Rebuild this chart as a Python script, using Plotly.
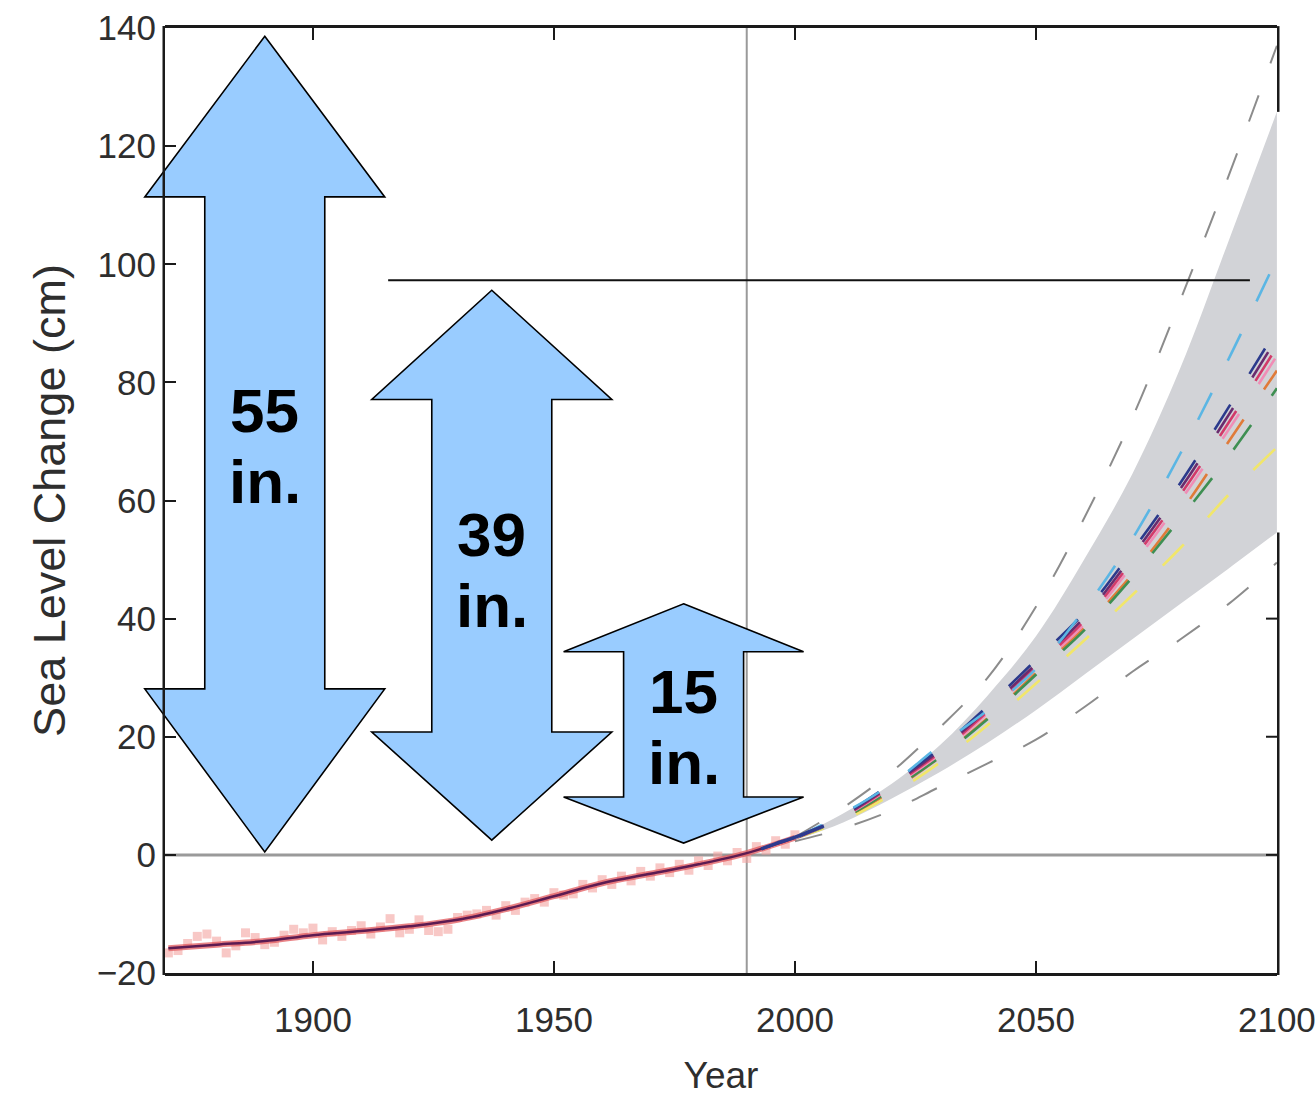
import plotly.graph_objects as go

# ---------------- data ----------------
# tide-gauge reconstruction (smoothed), cm relative to 1990
obs_years = [1870, 1880, 1890, 1900, 1910, 1920, 1930, 1940, 1950, 1960, 1970, 1980, 1990, 2000]
obs_level = [-15.8, -15.2, -14.6, -13.6, -12.9, -12.1, -11.0, -9.2, -7.0, -4.8, -3.2, -1.6, 0.3, 2.9]

# annual-mean points around the smoothed record
pt_years = list(range(1870, 2001, 2))
pt_level = [-16.6, -16.2, -15.0, -13.8, -13.4, -14.6, -16.6, -15.4, -13.2, -14.0,
            -15.2, -14.8, -13.6, -12.6, -13.2, -12.4, -14.4, -13.0, -13.8, -12.8,
            -12.0, -13.4, -12.2, -10.8, -13.2, -12.6, -11.0, -12.8, -13.0, -12.6,
            -10.6, -10.2, -10.0, -9.4, -10.2, -8.6, -9.4, -8.0, -7.4, -8.0,
            -6.4, -6.8, -6.6, -5.0, -5.6, -4.2, -5.0, -3.6, -4.4, -2.8,
            -3.6, -2.2, -3.0, -1.6, -2.6, -1.0, -1.8, -0.2, -1.0, 0.4,
            -0.6, 1.4, 0.8, 2.4, 1.8, 3.4]

# satellite altimetry
sat_years = [1993, 1996, 1999, 2002, 2006]
sat_level = [1.0, 1.9, 2.7, 3.6, 4.9]

# projections
proj_years = [2000, 2010, 2020, 2030, 2040, 2050, 2060, 2070, 2080, 2090, 2100]
band_upper = [2.8, 7.0, 12.0, 18.5, 27.0, 37.0, 50.0, 64.5, 82.5, 104.0, 125.8]
band_lower = [2.5, 5.5, 9.5, 14.0, 19.0, 24.5, 30.5, 36.5, 42.5, 48.5, 54.6]
outer_upper = [3.0, 8.0, 14.0, 21.5, 30.0, 42.0, 57.0, 74.0, 94.0, 115.0, 137.0]
outer_lower = [2.3, 4.5, 7.5, 11.5, 15.5, 19.5, 25.0, 31.0, 36.5, 42.5, 49.5]

scenario_names = ["orange", "yellow", "green", "pink", "crimson", "purple", "navy", "cyan"]
scenario_colors = ["#e07b39", "#f1e66a", "#3e8f52", "#f08db6", "#d23a6a", "#6a2c6e", "#2b3a8c", "#5bb6e4"]
scenario_values = [
    [2.8, 6.0, 10.8, 16.5, 23.2, 30.8, 38.5, 47.5, 58.0, 70.0, 82.0],
    [2.8, 5.8, 10.2, 15.6, 22.0, 29.0, 36.3, 44.0, 52.0, 61.0, 69.0],
    [2.8, 6.2, 11.0, 16.5, 23.0, 30.5, 38.0, 47.0, 57.0, 67.5, 79.0],
    [2.8, 6.4, 11.4, 17.0, 24.0, 31.5, 39.0, 49.0, 60.0, 72.0, 84.5],
    [2.8, 6.5, 11.6, 17.3, 24.3, 31.9, 39.6, 49.8, 61.0, 73.2, 86.0],
    [2.8, 6.6, 11.8, 17.6, 24.7, 32.3, 40.2, 50.6, 62.0, 74.5, 87.5],
    [2.8, 6.8, 12.1, 18.0, 25.2, 33.0, 41.0, 51.5, 63.0, 75.8, 89.0],
    [2.8, 7.0, 12.0, 18.5, 24.5, 31.5, 41.5, 53.5, 68.0, 84.0, 101.0],
]

# double-headed arrows: (centre year, tip top, head base top, head base bottom, tip bottom, label)
arrow_specs = [
    (1890.0, 138.6, 111.4, 28.1, 0.5, "55"),
    (1937.1, 95.6, 77.1, 20.8, 2.5, "39"),
    (1976.9, 42.5, 34.4, 9.8, 2.0, "15"),
]
label_rows = [(75.3, 63.3), (54.3, 42.3), (27.7, 15.7)]

ref_year = 1990
target_level = 97.3
target_span = [1915.6, 2094.4]

x_range = [1869.3, 2100.02]
y_range = [-20, 140]
x_ticks = [1900, 1950, 2000, 2050, 2100]
y_ticks = [-20, 0, 20, 40, 60, 80, 100, 120, 140]

# ---------------- figure ----------------
W, H = 1315, 1096
ML, MR, MT, MB = 165, 38, 28, 123
plot_w = W - ML - MR
plot_h = H - MT - MB


def px(year):
    return (year - x_range[0]) / (x_range[1] - x_range[0])


def py(level):
    return (level - y_range[0]) / (y_range[1] - y_range[0])


fig = go.Figure()

# projection envelope
fig.add_trace(go.Scatter(x=proj_years, y=band_upper, mode="lines", line=dict(width=0, shape="spline", color="#d2d3d7"),
                         hoverinfo="skip", showlegend=False))
fig.add_trace(go.Scatter(x=proj_years, y=band_lower, mode="lines", line=dict(width=0, shape="spline", color="#d2d3d7"),
                         fill="tonexty", fillcolor="#d2d3d7", hoverinfo="skip", showlegend=False))

# outer dashed bounds
for ys in (outer_upper, outer_lower):
    fig.add_trace(go.Scatter(x=proj_years, y=ys, mode="lines",
                             line=dict(color="#8c8c8c", width=2, dash="28px,34px", shape="spline"),
                             hoverinfo="skip", showlegend=False))

# scenario projections
for name, col, vals in zip(scenario_names, scenario_colors, scenario_values):
    fig.add_trace(go.Scatter(x=proj_years, y=vals, mode="lines", name=name,
                             line=dict(color=col, width=2.6, dash="30px,36px", shape="spline"),
                             showlegend=False))

# observed record
fig.add_trace(go.Scatter(x=pt_years, y=pt_level, mode="markers",
                         marker=dict(symbol="square", size=9, color="#f3a3a0", opacity=0.6),
                         showlegend=False))
fig.add_trace(go.Scatter(x=obs_years, y=obs_level, mode="lines",
                         line=dict(color="#e25a5e", width=6, shape="spline"), opacity=0.75, showlegend=False))
fig.add_trace(go.Scatter(x=obs_years, y=obs_level, mode="lines",
                         line=dict(color="#5c1b52", width=2.5, shape="spline"), showlegend=False))
fig.add_trace(go.Scatter(x=sat_years, y=sat_level, mode="lines",
                         line=dict(color="#2d3b8e", width=3.5, shape="spline"), showlegend=False))

shapes = []
# reference lines (below data)
shapes.append(dict(type="line", xref="x", yref="paper", x0=ref_year, x1=ref_year, y0=0, y1=1,
                   line=dict(color="#9a9a9a", width=2), layer="below"))
shapes.append(dict(type="line", xref="paper", yref="y", x0=0, x1=1, y0=0, y1=0,
                   line=dict(color="#9a9a9a", width=3), layer="below"))
# target level line
shapes.append(dict(type="line", xref="x", yref="y", x0=target_span[0], x1=target_span[1],
                   y0=target_level, y1=target_level, line=dict(color="#111111", width=2)))

# arrows
head_half = 120 / plot_w * (x_range[1] - x_range[0])
shaft_half = 60 / plot_w * (x_range[1] - x_range[0])
for cx, t_top, b_top, b_bot, t_bot, _ in arrow_specs:
    pts = [
        (cx, t_top), (cx + head_half, b_top), (cx + shaft_half, b_top),
        (cx + shaft_half, b_bot), (cx + head_half, b_bot), (cx, t_bot),
        (cx - head_half, b_bot), (cx - shaft_half, b_bot), (cx - shaft_half, b_top),
        (cx - head_half, b_top),
    ]
    path = "M " + " L ".join(f"{px(a):.5f},{py(b):.5f}" for a, b in pts) + " Z"
    shapes.append(dict(type="path", xref="paper", yref="paper", path=path,
                       fillcolor="#99ccff", line=dict(color="#000000", width=1.6), layer="above"))

# frame: left edge full, right edge interrupted by the envelope
edge = 1.25 / plot_w
shapes.append(dict(type="line", xref="paper", yref="paper", x0=-edge, x1=-edge, y0=-0.002, y1=1.002,
                   line=dict(color="#1a1a1a", width=2.5)))
for y0, y1 in ((y_range[0], band_lower[-1]), (band_upper[-1], y_range[1])):
    shapes.append(dict(type="line", xref="paper", yref="paper", x0=1 + edge, x1=1 + edge,
                       y0=py(y0) - (0.002 if y0 == y_range[0] else 0), y1=py(y1) + (0.002 if y1 == y_range[1] else 0),
                       line=dict(color="#1a1a1a", width=2.5)))
for t in (0, 20, 40):
    shapes.append(dict(type="line", xref="paper", yref="paper", x0=1, x1=1 - 11 / plot_w,
                       y0=py(t), y1=py(t), line=dict(color="#1a1a1a", width=2)))

annotations = []
for (cx, *_rest, lab), (y_num, y_unit) in zip(arrow_specs, label_rows):
    annotations.append(dict(x=cx, y=y_num, xref="x", yref="y", text=f"<b>{lab}</b>", showarrow=False,
                            font=dict(family="Liberation Sans, Arial", size=62, color="#000000"),
                            xanchor="center", yanchor="middle"))
    annotations.append(dict(x=cx, y=y_unit, xref="x", yref="y", text="<b>in.</b>", showarrow=False,
                            font=dict(family="Liberation Sans, Arial", size=62, color="#000000"),
                            xanchor="center", yanchor="middle"))

tick_font = dict(family="Liberation Sans, Arial", size=35, color="#2e2e2e")

fig.update_layout(
    width=W, height=H, autosize=False,
    margin=dict(l=ML, r=MR, t=MT, b=MB),
    paper_bgcolor="white", plot_bgcolor="white",
    shapes=shapes, annotations=annotations,
    xaxis=dict(range=x_range, tickvals=x_ticks, ticktext=[str(v) for v in x_ticks], automargin=False,
               showgrid=False, zeroline=False, showline=True, linecolor="#1a1a1a", linewidth=2.5,
               mirror="ticks", ticks="inside", ticklen=12, tickwidth=2, tickcolor="#1a1a1a",
               tickfont=tick_font, ticklabelstandoff=14, ticklabeloverflow="allow",
               title=dict(text="Year", font=dict(family="Liberation Sans, Arial", size=37, color="#2e2e2e"),
                          standoff=26)),
    yaxis=dict(range=y_range, tickvals=y_ticks, ticktext=["\u221220" if v == -20 else str(v) for v in y_ticks],
               automargin=False,
               showgrid=False, zeroline=False, showline=False,
               ticks="inside", ticklen=11, tickwidth=2, tickcolor="#1a1a1a",
               tickfont=tick_font, ticklabelstandoff=8,
               title=dict(text="Sea Level Change (cm)",
                          font=dict(family="Liberation Sans, Arial", size=45, color="#2e2e2e"), standoff=16)),
)

fig.write_html("out.html")
